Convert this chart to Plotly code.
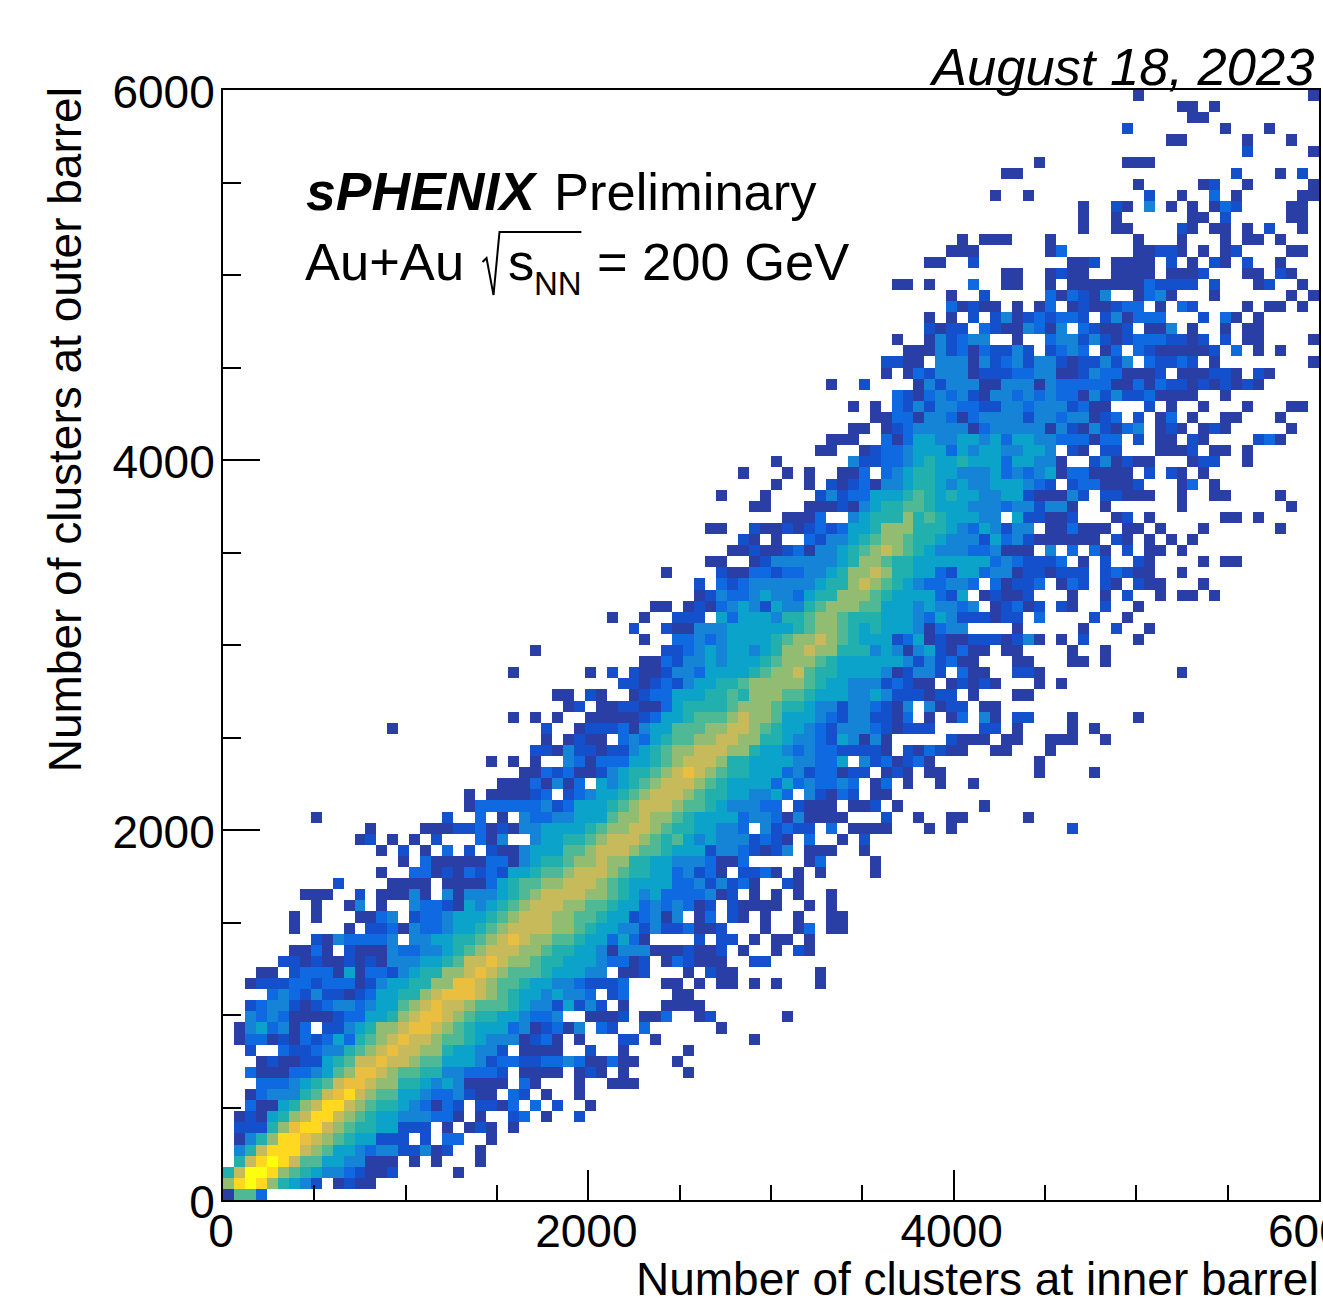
import plotly.graph_objects as go

NBINS = 100
BIN_WIDTH = 60
LEVEL_CHARS = "123456789abc"
LEVEL_COLORS = ["#2a3fa6", "#1450cc", "#0f69e0", "#1583d6", "#0ba3c9", "#22b0ae",
                "#4fb894", "#92bc72", "#c6ba5a", "#eabf40", "#ffd81f", "#fdfd10"]

# first filled x-bin of each y-bin (bottom row first)
ROW_STARTS = [0, 0, 0, 0, 0, 0, 0, 0, 0, 2, 3, 2, 3, 2, 1, 1, 2, 2, 4, 2,
              3, 5, 6, 8, 6, 6, 8, 7, 10, 14, 16, 14, 12, 13, 8, 22, 22, 25, 27, 24,
              28, 29, 15, 26, 31, 30, 36, 26, 38, 28, 38, 37, 35, 39, 43, 43, 40, 44, 46, 47,
              44, 51, 48, 45, 50, 47, 50, 54, 55, 57, 59, 57, 61, 55, 60, 60, 62, 61, 64, 64,
              66, 66, 61, 71, 64, 66, 67, 78, 78, 78, 70, 83, 71, 74, 93, 86, 82, 88, 87, 83]

# colour level read for each bin of the row ('.' = empty bin)
ROW_LEVELS = [
    "1773",
    "8bcb86542.1211",
    "69ccb87654432112.....1",
    ".69bcb9775544111.1.1...1",
    ".469bbb98755434422412..1",
    ".1468bba987655222.2.33..1",
    ".22268abb" "9876655" "222" ".1.121.1",
    ".1215689bb" "987655" "44433" "1" ".1..23.1..2",
    "..3115689bb" "98766543132" ".2213.3.2..1",
    "1344467" "9ab9877554334211" ".32.1..1",
    "33345679aa98866" "5454" "1111.31...1..111",
    "3111334578aa98776644333" "2.1111.121.1.....1",
    "121122" "56799a9987755542" "33223343" "11" "3" "11" "...1",
    "2..322344" "6789a9988655" "442" ".1111..2..1.....1",
    "1331213235367" "89a9987765444" "1231" ".1...22.1........1",
    "1453413.2245688" "9aa98765553" "41" "2314" ".32..3......1",
    "4343111123355689aa98766554334..1112.113..12......1",
    "23442123443455789a998777654425242.1...1111",
    "34324221235566" "89aaa9876554" "5443" ".23....11",
    "12223323331245566" "88aa98776554432223" "...11.1.11.1.1...1",
    "11.23331513324566889a98777655544" ".112...1.211.......1",
    "2212112121" "444556799a988766555433" "12.132111..22",
    "1131.2111" "43344567" "8999" "88766554" "1444" "111211" "2" ".1..1.21",
    "21433334." "445566789a98877" "655" "3531" "....2.22.1.11.1",
    "1....1." "2231433455678" "99998876554424223112" "...1..13.11",
    "1.1...1134." "2334555678" "9998877655" "23414" ".13.21.1..1..11",
    "1..14.1.." "43321" "5456789998877655" "3434312" ".21111..1.1",
    "111..2.11141.414445678" "99998876545" "33334" "12.1.1.1..1",
    "2....1111.1111" "356778" "89998765555" "3342" "4231" "..21",
    "1..331213232" "556778999876655" "34231" ".2231.1.1....1",
    "1.311111" "3314" "566788" "988" "66554443113" ".....13....1",
    "1.2.1.3.2.2114555" "7789998776555" "2443" "2124" ".111..1",
    "12.1.1.2...314..4" "556678" "99987" "67545" "444" "2321" ".3..1.2",
    "1....111" "223121" "44" "5555" "6788998766" "55443" ".42322" ".3." "1111" "..." "1.1" ".........." "2",
    "1" "..........." "2..3.1.4" "33" "44555" "7889" "8876" "5555" "3443" "14" "1111" "...2..1..11.....1",
    "1333333" "423" "555" "678" "999" "8776" "5" "444" "33" ".2111.112.1" ".......1",
    "1.111123." "234556789" "9987" "6655" "4453" ".42132" ".11",
    "11131413." "545678" "999" "876" "5555" "35343343" ".13.1..1..1",
    "113" "231124" "566789a98766555" "34233122" ".121.11" "........1....1",
    "1.1.1.." "4" "31333" "55678" "999" "8" "66" "5555" "4433" "5" ".4231231" ".........1",
    "22" "14" "22" "122" "4567" "88" "999" "88" "6" "55" "434" "33" "2222" "1.2132" "11" "..11...1",
    "1.1211.343567788" "9988" "665" "44" "32" "5414" "1" ".....2111.11..111..1",
    "1" "............." "2..1222314" "55777" "8899" "8765" "5432" "444" "321" "222" "...." "22.1" "....1.1",
    "1.1.1..1" "1111" "23556" "777" "89887" "555" "432" "442" "213" ".1.13.41." "22...1.....1",
    "12.1122113" "56666" "7888" "7665" "44" "244" "321" "4.4122" ".11",
    "11.21..1233" "5556676" "888776" "55544" "54" "222122" ".1...11",
    "2212324" "55667" "88888" "7655444" "23211" ".12121" "...1.1",
    "1" "......" "1.2.2112443" "5555" "67889766" "5555" "412442" ".311" "..221" "............" "1",
    "1132445455" "56788876" "555555" "4242311" "...11...11.1",
    "1" "..........." "22345455" "45688988" "666" "454" "14521311" ".11" "....1..1",
    "1..33434" "5555" "67889876" "555" "2351211" "222" "1241" ".1.2....1",
    "2..211444" "555555" "67887656" "5554" "1344" "....1.....1..2..1",
    "1..1..222.53" "555" "466" "7887666" "555" "4354222" "122" ".3....2..1",
    "11.12134" "542544" "6788877" "555" "454434" ".12312.21..2..1",
    "1243345443566" "888" "76" "5555" "325" ".12112" "...1..1.2..1.11.1",
    "2.323" "444444" "566" "898765433" "443" ".31223" ".132" ".21" ".211" "...1",
    "1....211" "332334456" "8898" "6655" "3255" "344" "1221222" ".23211" "..1",
    "11..12" "444444" "5688766" "5555555" "343" "222" "3.1.2..21" "....1.11",
    "11211231" "44567898765" "444334" "111" ".4.3.31.2.11.1",
    "21.1..32" "44567887665" "444" "25342" "111111" ".21.1.1.1",
    "11..211212323" "556888666543" "54244" ".113111.11.1" "...1......1",
    "1113.." "45666" "8676" "5" "55" "44" ".52" "2112" "...12.1" "......11.1",
    "11...11121" "4566776555" "444" "3442441" "..1" "......1" ".........1",
    "1...1....24233" "555" "6765655" "4455" "2111" "42.22111" "..1..11....1",
    "1..1.21231" "44566" "5454" "4555" "432" ".233" "1112" "...13.1",
    "1...1.1..113.3" "45665" "5444" "53434" "5133" "1111" ".2.21.1",
    "1......42233" "4565565" "55" "3" "55" "44" "1" "..241211" "...122..1",
    "11..1233455" "5354" "55" "44" "55" "4" ".21.22" "...1112.11.1",
    "111..31355" "4455" "4535" "5" "44" "333" "133" ".2.11.21" "....231",
    "11.12344" "4441" "34444" "4142" "1421" "34" ".121.121" ".....1",
    "1133144313" "4444" "2443" "44" "123" ".2.13.1" "..11...1",
    "1.1.324" "2443322" "443" "444" "2311" "...2.1..1...1...11",
    "32134342" "1443" "43433" "1424223" "1111" "..1",
    "1..2" "...." "142444" "11" "444" "14" "33333" "11" "313" "221212121",
    "1.132444" "1222" "3344" "112433" "1112" ".111221.21",
    "2211.4441" "42342442" "122424" ".32232.1" "........1",
    "1114231" "32242" ".2343" ".13.32" "11111" "2.3.1.1",
    "1..142344" "..1..3442" "4212" "333" "2212" ".2.11....1",
    "2122.3211431" "4.3211" "2.114.1" "..1.11",
    "1.1.2." "241232332" ".241333" "...2.31.1",
    "31211.1.13.12" "11233" ".1.32" "....1.11.1",
    "1..2" "....." "313214" ".." "1341" "..." "1" "......" "1.1",
    "11.1...3..11..1." "1111111" "3" "2222" ".2" "..." "12" "..1",
    "11..1211..1111.1112...11.21",
    "11..2........112.1111.2.1.21.2..1",
    "111......13......11221.1.12....11",
    "1.111...1.......1...1...1.11.1",
    "1..11....21.11.1.2..1",
    "1..1......11.2.....11",
    "1..21.4.1.1.132....11",
    "1..1..........2..1..3.1.....11",
    "1.....12..1.....1",
    "11...................2...1.2",
    "1.......111",
    "2.....1",
    "11.....1...1",
    "2........1...1",
    "11",
    "11.1",
    "1...............1",
]

X_TICKS = [0, 2000, 4000, 6000]
Y_TICKS = [0, 2000, 4000, 6000]
X_TITLE = "Number of clusters at inner barrel"
Y_TITLE = "Number of clusters at outer barrel"
DATE_TEXT = "August 18, 2023"

FONT = "Liberation Sans"
W, H = 1323, 1300
ML, MR, MT, MB = 223, 2, 90, 100
PW, PH = W - ML - MR, H - MT - MB


def px(x):
    return (x - ML) / PW


def py(y):
    return 1 - (y - MT) / PH


z = [[None] * NBINS for _ in range(NBINS)]
for j, (start, levels) in enumerate(zip(ROW_STARTS, ROW_LEVELS)):
    for k, ch in enumerate(levels):
        if ch != "." and start + k < NBINS:
            z[j][start + k] = LEVEL_CHARS.index(ch) + 1

n = len(LEVEL_COLORS)
scale = [[i / (n - 1), c] for i, c in enumerate(LEVEL_COLORS)]

fig = go.Figure(go.Heatmap(
    z=z, x0=BIN_WIDTH / 2, dx=BIN_WIDTH, y0=BIN_WIDTH / 2, dy=BIN_WIDTH,
    colorscale=scale, zmin=1, zmax=n, showscale=False, hoverongaps=False,
))


def note(text, x, y, size=52.5, xanchor="left", yanchor="middle", angle=0, height=None):
    fig.add_annotation(text=text, x=px(x), y=py(y), xref="paper", yref="paper",
                       xanchor=xanchor, yanchor=yanchor, showarrow=False, textangle=angle,
                       borderpad=0, height=height,
                       font=dict(family=FONT, size=size, color="black"))


note("<b><i>sPHENIX</i></b>", 305, 192, size=53.5)
note("Preliminary", 554, 192)
note("Au+Au", 304, 261)
note("s", 508, 261)
note("NN", 534, 283, size=33)
note("=", 597, 261)
note("200 GeV", 642, 261)
note("<i>" + DATE_TEXT + "</i>", 1317, 66, xanchor="right")
note(X_TITLE, 1322, 1279, size=46, xanchor="right", height=40)
note(Y_TITLE, 65, 430, size=46, xanchor="center", angle=-90)
# the last x tick label runs off the page edge, as in the reference
note(str(X_TICKS[-1]), 1321, 1231, size=46, xanchor="center")

fig.add_shape(type="path", xref="paper", yref="paper",
              path=f"M {px(483)} {py(262)} L {px(487)} {py(258)} L {px(494)} {py(295)} "
                   f"L {px(500)} {py(232)} L {px(582)} {py(232)}",
              line=dict(color="black", width=2))

axis = dict(range=[0, 6000], showgrid=False, zeroline=False, showline=True, mirror=True,
            linecolor="black", linewidth=2, tickmode="array", ticks="inside",
            tickcolor="black", tickwidth=2,
            tickfont=dict(family=FONT, size=46, color="black"))
fig.update_xaxes(**axis, tickvals=X_TICKS[:-1], ticklen=30, ticklabelstandoff=-10, ticklabelshift=-2,
                 minor=dict(tickmode="linear", tick0=0, dtick=500, ticks="inside",
                            ticklen=15, tickcolor="black", tickwidth=1.5))
fig.update_yaxes(**axis, tickvals=Y_TICKS, ticklen=37, ticklabelstandoff=-3, ticklabelshift=2,
                 minor=dict(tickmode="linear", tick0=0, dtick=500, ticks="inside",
                            ticklen=18, tickcolor="black", tickwidth=1.5))
fig.update_layout(width=W, height=H, margin=dict(l=ML, r=MR, t=MT, b=MB),
                  paper_bgcolor="white", plot_bgcolor="white",
                  font=dict(family=FONT, color="black"))

fig.write_html("out.html", post_script="document.body.style.margin='0';",
               config={"displayModeBar": False})
